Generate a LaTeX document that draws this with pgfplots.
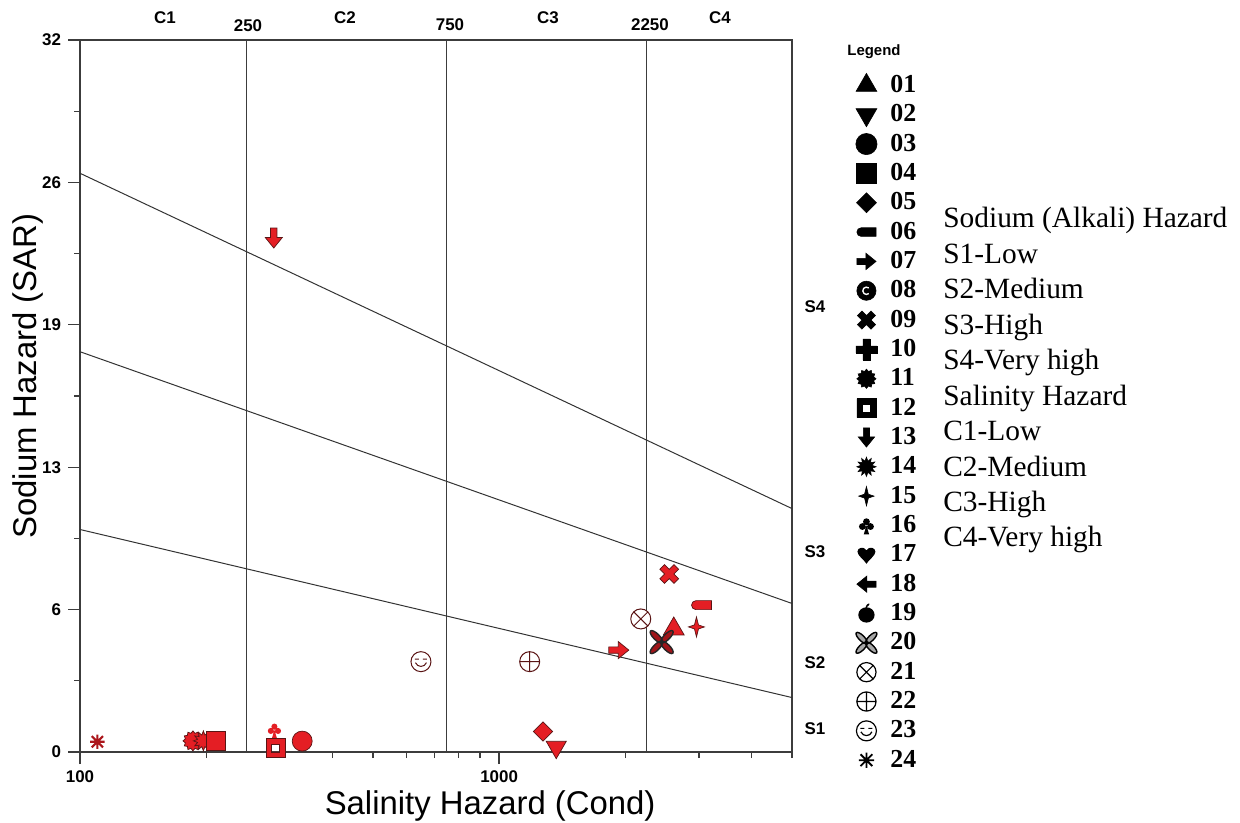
\documentclass[border=0pt]{standalone}
\usepackage{fontspec}
\setmainfont{Liberation Serif}
\setsansfont{Liberation Sans}
\usepackage{pgfplots}
\pgfplotsset{compat=1.18}
\definecolor{mred}{RGB}{228,30,36}
\definecolor{mdark}{RGB}{90,20,20}
\definecolor{lgray}{RGB}{60,60,60}
\newcommand\MP[2]{\pgfqpoint{#1\pgfplotmarksize}{#2\pgfplotmarksize}}
\newcommand\SP[2]{\pgfpathlineto{\pgfpointpolar{#1}{#2\pgfplotmarksize}}}
% custom marks
\pgfdeclareplotmark{arrowd}{%
  \pgfpathmoveto{\MP{-0.32}{1}}\pgfpathlineto{\MP{0.32}{1}}%
  \pgfpathlineto{\MP{0.32}{0.05}}\pgfpathlineto{\MP{0.85}{0.05}}%
  \pgfpathlineto{\MP{0}{-1}}\pgfpathlineto{\MP{-0.85}{0.05}}%
  \pgfpathlineto{\MP{-0.32}{0.05}}\pgfpathclose\pgfusepathqfillstroke}
\pgfdeclareplotmark{pill}{%
  \pgfpathmoveto{\MP{-0.55}{0.45}}\pgfpatharc{90}{270}{0.45\pgfplotmarksize}%
  \pgfpathlineto{\MP{1}{-0.45}}\pgfpathlineto{\MP{1}{0.45}}%
  \pgfpathclose\pgfusepathqfillstroke}
\pgfdeclareplotmark{plusthick}{%
  \pgfpathmoveto{\MP{0.33}{1}}\pgfpathlineto{\MP{0.33}{0.33}}\pgfpathlineto{\MP{1}{0.33}}%
  \pgfpathlineto{\MP{1}{-0.33}}\pgfpathlineto{\MP{0.33}{-0.33}}\pgfpathlineto{\MP{0.33}{-1}}%
  \pgfpathlineto{\MP{-0.33}{-1}}\pgfpathlineto{\MP{-0.33}{-0.33}}\pgfpathlineto{\MP{-1}{-0.33}}%
  \pgfpathlineto{\MP{-1}{0.33}}\pgfpathlineto{\MP{-0.33}{0.33}}\pgfpathlineto{\MP{-0.33}{1}}%
  \pgfpathclose\pgfusepathqfillstroke}
\pgfdeclareplotmark{star4}{%
  \pgfpathmoveto{\MP{0}{1}}\pgfpathlineto{\MP{0.2}{0.2}}\pgfpathlineto{\MP{0.8}{0}}%
  \pgfpathlineto{\MP{0.2}{-0.2}}\pgfpathlineto{\MP{0}{-1}}\pgfpathlineto{\MP{-0.2}{-0.2}}%
  \pgfpathlineto{\MP{-0.8}{0}}\pgfpathlineto{\MP{-0.2}{0.2}}\pgfpathclose\pgfusepathqfillstroke}
\pgfdeclareplotmark{spikyA}{%
  \pgfpathmoveto{\pgfpointpolar{0}{\pgfplotmarksize}}%
  \SP{15}{0.78}\SP{30}{1}\SP{45}{0.78}\SP{60}{1}\SP{75}{0.78}\SP{90}{1}%
  \SP{105}{0.78}\SP{120}{1}\SP{135}{0.78}\SP{150}{1}\SP{165}{0.78}\SP{180}{1}%
  \SP{195}{0.78}\SP{210}{1}\SP{225}{0.78}\SP{240}{1}\SP{255}{0.78}\SP{270}{1}%
  \SP{285}{0.78}\SP{300}{1}\SP{315}{0.78}\SP{330}{1}\SP{345}{0.78}%
  \pgfpathclose\pgfusepathqfillstroke}
\pgfdeclareplotmark{spikyB}{%
  \pgfpathmoveto{\pgfpointpolar{0}{\pgfplotmarksize}}%
  \SP{15}{0.6}\SP{30}{1}\SP{45}{0.6}\SP{60}{1}\SP{75}{0.6}\SP{90}{1}%
  \SP{105}{0.6}\SP{120}{1}\SP{135}{0.6}\SP{150}{1}\SP{165}{0.6}\SP{180}{1}%
  \SP{195}{0.6}\SP{210}{1}\SP{225}{0.6}\SP{240}{1}\SP{255}{0.6}\SP{270}{1}%
  \SP{285}{0.6}\SP{300}{1}\SP{315}{0.6}\SP{330}{1}\SP{345}{0.6}%
  \pgfpathclose\pgfusepathqfillstroke}
\pgfdeclareplotmark{hollowsq}{%
  \pgfpathrectangle{\MP{-1}{-1}}{\MP{2}{2}}%
  \pgfpathrectangle{\MP{-0.42}{-0.42}}{\MP{0.84}{0.84}}%
  \pgfseteorule\pgfusepathqfillstroke}
\pgfdeclareplotmark{club}{%
  \pgfpathcircle{\MP{0}{0.42}}{0.38\pgfplotmarksize}%
  \pgfpathcircle{\MP{-0.45}{-0.12}}{0.38\pgfplotmarksize}%
  \pgfpathcircle{\MP{0.45}{-0.12}}{0.38\pgfplotmarksize}%
  \pgfpathmoveto{\MP{0}{0}}\pgfpathlineto{\MP{-0.3}{-1}}\pgfpathlineto{\MP{0.3}{-1}}\pgfpathclose
  \pgfusepathqfill}
\pgfdeclareplotmark{heart}{%
  \pgfpathmoveto{\MP{0}{-1}}%
  \pgfpathcurveto{\MP{-0.2}{-0.6}}{\MP{-1}{-0.1}}{\MP{-1}{0.35}}%
  \pgfpathcurveto{\MP{-1}{0.8}}{\MP{-0.3}{1}}{\MP{0}{0.5}}%
  \pgfpathcurveto{\MP{0.3}{1}}{\MP{1}{0.8}}{\MP{1}{0.35}}%
  \pgfpathcurveto{\MP{1}{-0.1}}{\MP{0.2}{-0.6}}{\MP{0}{-1}}%
  \pgfpathclose\pgfusepathqfill}
\pgfdeclareplotmark{apple}{%
  \pgfpathellipse{\MP{0}{-0.15}}{\MP{0.85}{0}}{\MP{0}{0.8}}%
  \pgfpathellipse{\MP{0.12}{0.85}}{\MP{0.18}{0.18}}{\MP{-0.07}{0.07}}%
  \pgfusepathqfill}
\pgfdeclareplotmark{xfancy}{%
  \pgfpathellipse{\pgfpointpolar{45}{0.5\pgfplotmarksize}}{\pgfpointpolar{45}{0.55\pgfplotmarksize}}{\pgfpointpolar{135}{0.2\pgfplotmarksize}}%
  \pgfpathellipse{\pgfpointpolar{135}{0.5\pgfplotmarksize}}{\pgfpointpolar{135}{0.55\pgfplotmarksize}}{\pgfpointpolar{225}{0.2\pgfplotmarksize}}%
  \pgfpathellipse{\pgfpointpolar{225}{0.5\pgfplotmarksize}}{\pgfpointpolar{225}{0.55\pgfplotmarksize}}{\pgfpointpolar{315}{0.2\pgfplotmarksize}}%
  \pgfpathellipse{\pgfpointpolar{315}{0.5\pgfplotmarksize}}{\pgfpointpolar{315}{0.55\pgfplotmarksize}}{\pgfpointpolar{45}{0.2\pgfplotmarksize}}%
  \pgfusepathqfillstroke}
\pgfdeclareplotmark{smiley}{%
  \pgfpathcircle{\pgfpointorigin}{\pgfplotmarksize}\pgfusepathqfillstroke
  \pgfpathmoveto{\MP{-0.6}{0.25}}\pgfpathlineto{\MP{-0.2}{0.25}}%
  \pgfpathmoveto{\MP{0.2}{0.25}}\pgfpathlineto{\MP{0.6}{0.25}}%
  \pgfpathmoveto{\MP{-0.55}{-0.1}}\pgfpathcurveto{\MP{-0.35}{-0.6}}{\MP{0.35}{-0.6}}{\MP{0.55}{-0.1}}%
  \pgfusepathqstroke}
\pgfdeclareplotmark{circc}{%
  \pgfpathcircle{\pgfpointorigin}{\pgfplotmarksize}\pgfusepathqfillstroke
  \pgfsetstrokecolor{white}\pgfsetlinewidth{0.14\pgfplotmarksize}%
  \pgfpathmoveto{\pgfpointpolar{50}{0.38\pgfplotmarksize}}\pgfpatharc{50}{310}{0.38\pgfplotmarksize}%
  \pgfusepathqstroke}
\pgfdeclareplotmark{refmark}{%
  \pgfpathmoveto{\MP{-0.7}{-0.7}}\pgfpathlineto{\MP{0.7}{0.7}}%
  \pgfpathmoveto{\MP{-0.7}{0.7}}\pgfpathlineto{\MP{0.7}{-0.7}}%
  \pgfpathmoveto{\MP{0}{-0.9}}\pgfpathlineto{\MP{0}{0.9}}%
  \pgfpathmoveto{\MP{-0.9}{0}}\pgfpathlineto{\MP{0.9}{0}}%
  \pgfusepathqstroke}
\pgfplotsset{
  dat/.style={only marks, forget plot, mark size=5bp,
    mark options={draw=mdark, fill=mred, line width=0.35bp, solid}},
  datw/.style={only marks, forget plot, mark size=5bp,
    mark options={draw=mdark, fill=white, line width=0.5bp, solid}},
  lg/.style={black, mark size=5bp,
    mark options={draw=black, fill=black, line width=0.3bp, solid}},
  lgw/.style={black, mark size=5bp,
    mark options={draw=black, fill=white, line width=0.6bp, solid}},
}
\begin{document}
\begin{tikzpicture}
\useasboundingbox (0,0) rectangle (620bp,411.5bp);
\begin{axis}[
  at={(40bp,35.5bp)}, anchor=south west,
  scale only axis, width=356bp, height=356bp,
  xmode=log, log basis x=10,
  xmin=100, xmax=5000, ymin=0, ymax=32,
  clip=false,
  axis line style={lgray, line width=1bp},
  xtick={100,1000}, xticklabels={100,1000},
  minor xtick={200,300,400,500,600,700,800,900,2000,3000,4000,5000},
  ytick={0,6.4,12.8,19.2,25.6,32}, yticklabels={0,6,13,19,26,32},
  minor ytick={3.2,9.6,16,22.4,28.8},
  tick align=outside, xtick pos=left, ytick pos=left,
  major tick length=6bp, minor tick length=3bp,
  tick style={lgray, line width=0.6bp},
  ticklabel style={font=\sffamily\bfseries\fontsize{8.5}{10}\selectfont},
  xlabel={Salinity Hazard (Cond)}, ylabel={Sodium Hazard (SAR)},
  label style={font=\sffamily\fontsize{16.5}{19}\selectfont},
  xlabel style={at={(rel axis cs:0.576,0)}, anchor=center, yshift=-27bp},
  ylabel style={at={(rel axis cs:-0.073,0.528)}, anchor=center},
  legend image code/.code={\path[draw=none,fill=none] (-8bp,-7bp) rectangle (8bp,7bp); \draw[#1] plot coordinates {(0bp,0bp)};},
  legend style={at={(rel axis cs:1.0815,0.9565)}, anchor=north west, draw=none, fill=none,
    inner sep=0pt, row sep=0.67bp, column sep=4bp,
    nodes={inner sep=0pt, text height=9bp, text depth=2bp, font=\bfseries\fontsize{13}{15}\selectfont}},
  legend cell align=left,
]
% class boundaries
\addplot[lgray, line width=0.6bp, forget plot] coordinates {(250,0) (250,32)};
\addplot[lgray, line width=0.6bp, forget plot] coordinates {(750,0) (750,32)};
\addplot[lgray, line width=0.6bp, forget plot] coordinates {(2250,0) (2250,32)};
\addplot[black!80, line width=0.5bp, forget plot] coordinates {(100,10.0) (5000,2.447)};
\addplot[black!80, line width=0.5bp, forget plot] coordinates {(100,17.99) (5000,6.675)};
\addplot[black!80, line width=0.5bp, forget plot] coordinates {(100,26.01) (5000,10.94)};
% samples
\addplot[dat, mark=refmark, mark options={draw=mred!75!black, line width=1.1bp}, mark size=4bp] coordinates {(110,0.46)};
\addplot[dat, mark=spikyA] coordinates {(186,0.5)};
\addplot[dat, mark=spikyB] coordinates {(197,0.5)};
\addplot[dat, mark=square*, mark size=4.6bp] coordinates {(211,0.5)};
\addplot[dat, mark=hollowsq, mark size=4.6bp] coordinates {(293,0.18)};
\addplot[dat, mark=club, mark size=4bp] coordinates {(291,0.99)};
\addplot[dat, mark=*] coordinates {(339,0.49)};
\addplot[dat, mark=arrowd] coordinates {(290,23.1)};
\addplot[datw, mark=smiley] coordinates {(651,4.06)};
\addplot[datw, mark=oplus*] coordinates {(1183,4.06)};
\addplot[dat, mark=square*, mark size=3.4bp, every mark/.append style={rotate=45}] coordinates {(1273,0.92)};
\addplot[dat, mark=triangle*, mark size=5.8bp, every mark/.append style={rotate=180}] coordinates {(1369,0.22)};
\addplot[dat, mark=arrowd, every mark/.append style={rotate=90}] coordinates {(1931,4.58)};
\addplot[datw, mark=otimes*] coordinates {(2178,5.98)};
\addplot[dat, mark=plusthick, every mark/.append style={rotate=45}] coordinates {(2548,8.0)};
\addplot[dat, mark=triangle*, mark size=6bp] coordinates {(2611,5.53)};
\addplot[dat, mark=xfancy, mark size=7.5bp, mark options={draw=black!85, fill=mred!70!black, line width=0.7bp}] coordinates {(2443,4.94)};
\addplot[dat, mark=pill] coordinates {(3041,6.6)};
\addplot[dat, mark=star4] coordinates {(2958,5.62)};
% legend
\addlegendimage{lg, mark=triangle*, mark size=6bp}\addlegendentry{01}
\addlegendimage{lg, mark=triangle*, mark size=6bp, every mark/.append style={rotate=180}}\addlegendentry{02}
\addlegendimage{lg, mark=*, mark size=5.3bp}\addlegendentry{03}
\addlegendimage{lg, mark=square*, mark size=5bp}\addlegendentry{04}
\addlegendimage{lg, mark=square*, mark size=3.5bp, every mark/.append style={rotate=45}}\addlegendentry{05}
\addlegendimage{lg, mark=pill, mark size=4.8bp}\addlegendentry{06}
\addlegendimage{lg, mark=arrowd, mark size=4.8bp, every mark/.append style={rotate=90}}\addlegendentry{07}
\addlegendimage{lg, mark=circc, mark size=4.8bp}\addlegendentry{08}
\addlegendimage{lg, mark=plusthick, mark size=4.8bp, every mark/.append style={rotate=45}}\addlegendentry{09}
\addlegendimage{lg, mark=plusthick, mark size=5.3bp}\addlegendentry{10}
\addlegendimage{lg, mark=spikyA, mark size=4.8bp}\addlegendentry{11}
\addlegendimage{lg, mark=hollowsq, mark size=4.8bp}\addlegendentry{12}
\addlegendimage{lg, mark=arrowd, mark size=4.8bp}\addlegendentry{13}
\addlegendimage{lg, mark=spikyB, mark size=4.8bp}\addlegendentry{14}
\addlegendimage{lg, mark=star4, mark size=4.8bp}\addlegendentry{15}
\addlegendimage{lg, mark=club, mark size=4.5bp}\addlegendentry{16}
\addlegendimage{lg, mark=heart, mark size=4.5bp}\addlegendentry{17}
\addlegendimage{lg, mark=arrowd, mark size=4.8bp, every mark/.append style={rotate=-90}}\addlegendentry{18}
\addlegendimage{lg, mark=apple, mark size=4.8bp}\addlegendentry{19}
\addlegendimage{lg, mark=xfancy, mark size=6.8bp, mark options={draw=black, fill=black!35, line width=0.7bp}}\addlegendentry{20}
\addlegendimage{lgw, mark=otimes*, mark size=4.8bp}\addlegendentry{21}
\addlegendimage{lgw, mark=oplus*, mark size=4.8bp}\addlegendentry{22}
\addlegendimage{lgw, mark=smiley, mark size=5bp}\addlegendentry{23}
\addlegendimage{lg, mark=refmark, mark size=4.2bp, mark options={draw=black, line width=0.9bp}}\addlegendentry{24}
\end{axis}
\begin{scope}[x=0.5bp, y=-0.5bp, yshift=411.5bp]
\tikzset{tl/.style={font=\sffamily\bfseries\fontsize{8.5}{10}\selectfont, inner sep=0pt}}
\node[tl] at (165,18) {C1};
\node[tl] at (248,26) {250};
\node[tl] at (345,18) {C2};
\node[tl] at (450,25) {750};
\node[tl] at (548,18) {C3};
\node[tl] at (650,25) {2250};
\node[tl] at (720,18) {C4};
\node[tl] at (815,307) {S4};
\node[tl] at (815,552) {S3};
\node[tl] at (815,663) {S2};
\node[tl] at (815,729) {S1};
\node[font=\sffamily\bfseries\fontsize{7.5}{9}\selectfont, inner sep=0pt] at (874,52) {Legend};
\tikzset{rl/.style={anchor=base west, inner sep=0pt, font=\fontsize{14.75}{17}\selectfont}}
\node[rl] at (943,228) {Sodium (Alkali) Hazard};
\node[rl] at (943,263.4) {S1-Low};
\node[rl] at (943,298.9) {S2-Medium};
\node[rl] at (943,334.3) {S3-High};
\node[rl] at (943,369.8) {S4-Very high};
\node[rl] at (943,405.2) {Salinity Hazard};
\node[rl] at (943,440.6) {C1-Low};
\node[rl] at (943,476.1) {C2-Medium};
\node[rl] at (943,511.5) {C3-High};
\node[rl] at (943,547.0) {C4-Very high};
\end{scope}
\end{tikzpicture}
\end{document}
